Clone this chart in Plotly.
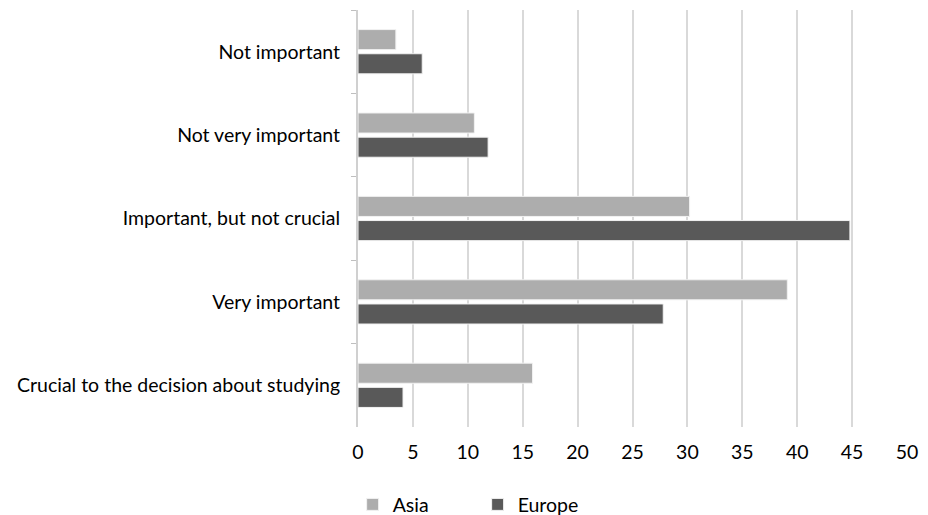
import plotly.graph_objects as go

categories = ["Not important", "Not very important", "Important, but not crucial",
              "Very important", "Crucial to the decision about studying"]
asia = [3.45, 10.6, 30.2, 39.1, 15.9]
europe = [5.85, 11.85, 44.8, 27.8, 4.1]
x_ticks = [0, 5, 10, 15, 20, 25, 30, 35, 40, 45, 50]

fig = go.Figure()
fig.add_trace(go.Bar(y=categories, x=asia, name="Asia", orientation="h",
                     marker=dict(color="#ADADAD", line=dict(color="#F2F2F2", width=1))))
fig.add_trace(go.Bar(y=categories, x=europe, name="Europe", orientation="h",
                     marker=dict(color="#595959", line=dict(color="#F2F2F2", width=1))))

font_family = "Lato, Open Sans, sans-serif"
fig.update_layout(
    width=928, height=515,
    margin=dict(l=358, r=13, t=10, b=88),
    paper_bgcolor="white", plot_bgcolor="white",
    barmode="group", bargap=0.42, bargroupgap=0.17,
    font=dict(family=font_family, size=19.5, color="#000000"),
    showlegend=True,
    legend=dict(orientation="h", xref="container", yref="container",
                x=0.380, xanchor="left", y=0.02, yanchor="middle",
                entrywidth=80, entrywidthmode="pixels",
                font=dict(size=19.5, color="#000000"), itemwidth=30),
)
fig.update_xaxes(range=[0, 50], tickvals=x_ticks, ticktext=[str(v) for v in x_ticks],
                 showgrid=True, gridcolor="#D9D9D9", gridwidth=2,
                 zeroline=False, showline=False, ticks="", ticklen=0,
                 tickfont=dict(size=19.5, color="#000000"), ticklabelstandoff=11)
fig.update_yaxes(autorange="reversed", showline=True, linecolor="#D0D0D0", linewidth=2,
                 ticks="outside", tickson="boundaries", ticklen=5, tickcolor="#BFBFBF",
                 tickwidth=1, showgrid=False, tickfont=dict(size=19.5, color="#000000"),
                 ticklabelstandoff=12)

fig.write_html("out.html")
